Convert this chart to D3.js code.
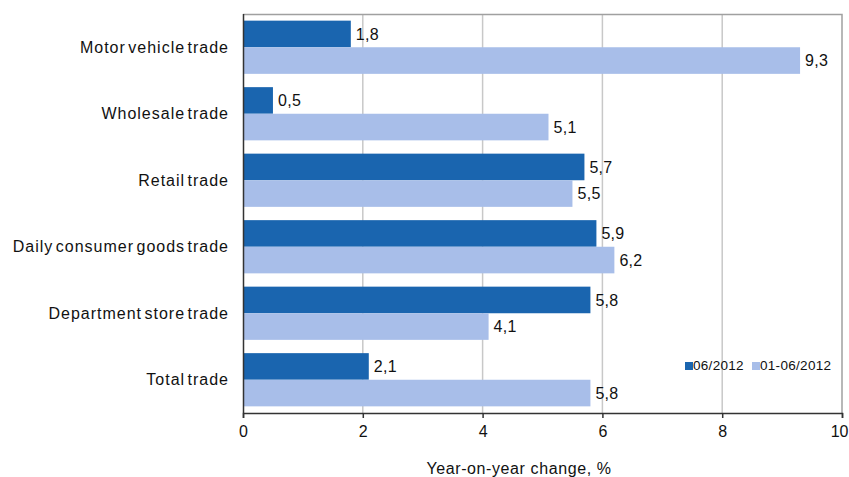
<!DOCTYPE html>
<html>
<head>
<meta charset="utf-8">
<script src="https://cdn.jsdelivr.net/npm/d3@7"></script>
<style>
  body { margin: 0; background: #fff; }
  text { font-family: "Liberation Sans", Arial, sans-serif; fill: #111; }
</style>
</head>
<body>
<svg id="chart" width="849" height="477"></svg>
<script>
// Data
const categories = ["Motor vehicle trade", "Wholesale trade", "Retail trade",
    "Daily consumer goods trade", "Department store trade", "Total trade"];
const seriesNames = ["06/2012", "01-06/2012"];
const month = [1.8, 0.5, 5.7, 5.9, 5.8, 2.1];
const halfYear = [9.3, 5.1, 5.5, 6.2, 4.1, 5.8];
const xTicks = [0, 2, 4, 6, 8, 10];
const axisTitle = "Year-on-year change, %";

const colors = ["#1a65af", "#a8bee9"];

// Layout
const svg = d3.select("#chart");
const margin = {top: 14, right: 7, bottom: 64, left: 243};
const width = 849 - margin.left - margin.right;
const height = 477 - margin.top - margin.bottom;

const g = svg.append("g").attr("transform", `translate(${margin.left},${margin.top})`);

const x = d3.scaleLinear().domain([0, 10]).range([0, width]);
const y = d3.scaleBand().domain(categories).range([0, height])
    .paddingInner(0.2).paddingOuter(0.1);
const ySub = d3.scaleBand().domain([0, 1]).range([0, y.bandwidth()]);

// gridlines
g.selectAll(".grid").data(xTicks.filter(d => d > 0 && d < 10)).enter()
    .append("line")
    .attr("x1", d => x(d)).attr("x2", d => x(d))
    .attr("y1", 0).attr("y2", height)
    .attr("stroke", "#c8c8c8").attr("stroke-width", 1.5);

// frame (top and right)
g.append("path")
    .attr("d", `M0,0.5H${width}V${height}`)
    .attr("fill", "none").attr("stroke", "#a0a0a0").attr("stroke-width", 1.5);

// bars
const rows = categories.map((c, i) => ({cat: c, vals: [month[i], halfYear[i]]}));
const groups = g.selectAll(".cat").data(rows).enter()
    .append("g").attr("transform", d => `translate(0,${y(d.cat)})`);

groups.selectAll("rect").data(d => d.vals).enter()
    .append("rect")
    .attr("x", 0)
    .attr("y", (d, i) => ySub(i))
    .attr("width", d => x(d))
    .attr("height", ySub.bandwidth())
    .attr("fill", (d, i) => colors[i]);

groups.selectAll(".val").data(d => d.vals).enter()
    .append("text")
    .attr("x", d => x(d) + 5)
    .attr("y", (d, i) => ySub(i) + ySub.bandwidth() / 2)
    .attr("dy", "0.35em")
    .style("font-size", "16px")
    .style("letter-spacing", "0.3px")
    .text(d => d3.format(".1f")(d).replace(".", ","));

// category labels
g.selectAll(".catlabel").data(categories).enter()
    .append("text")
    .attr("x", -14)
    .attr("y", d => y(d) + y.bandwidth() / 2)
    .attr("dy", "0.35em")
    .attr("text-anchor", "end")
    .style("font-size", "16px")
    .style("letter-spacing", "1px")
    .style("word-spacing", "-3px")
    .text(d => d);

// left axis line
g.append("line").attr("x1", 0.5).attr("x2", 0.5).attr("y1", 0).attr("y2", height)
    .attr("stroke", "#333").attr("stroke-width", 1.5);

// bottom axis
const xAxis = g.append("g").attr("transform", `translate(0,${height})`)
    .call(d3.axisBottom(x).tickValues(xTicks).tickSize(5).tickPadding(8).tickFormat(d3.format("d")));
xAxis.select(".domain").attr("stroke", "#333").attr("stroke-width", 1.5);
xAxis.selectAll(".tick line").attr("stroke", "#333").attr("stroke-width", 1.5);
xAxis.selectAll(".tick text")
    .style("font-size", "16px")
    .style("font-family", "'Liberation Sans', Arial, sans-serif")
    .attr("fill", "#111");
// keep the last label inside the picture
xAxis.selectAll(".tick text").filter(d => d === 10)
    .attr("text-anchor", "end").attr("dx", 6);

// axis title
svg.append("text")
    .attr("x", 519).attr("y", 474)
    .attr("text-anchor", "middle")
    .style("font-size", "16px")
    .style("letter-spacing", "0.6px")
    .text(axisTitle);

// legend
const legend = svg.append("g").attr("transform", "translate(685,362)");
const legX = [0, 67];
seriesNames.forEach((s, i) => {
    legend.append("rect").attr("x", legX[i]).attr("y", 0)
        .attr("width", 8).attr("height", 8).attr("fill", colors[i]);
    legend.append("text").attr("x", legX[i] + 8).attr("y", 8)
        .style("font-size", "13.5px")
        .style("letter-spacing", "0.3px")
        .text(s);
});
</script>
</body>
</html>
